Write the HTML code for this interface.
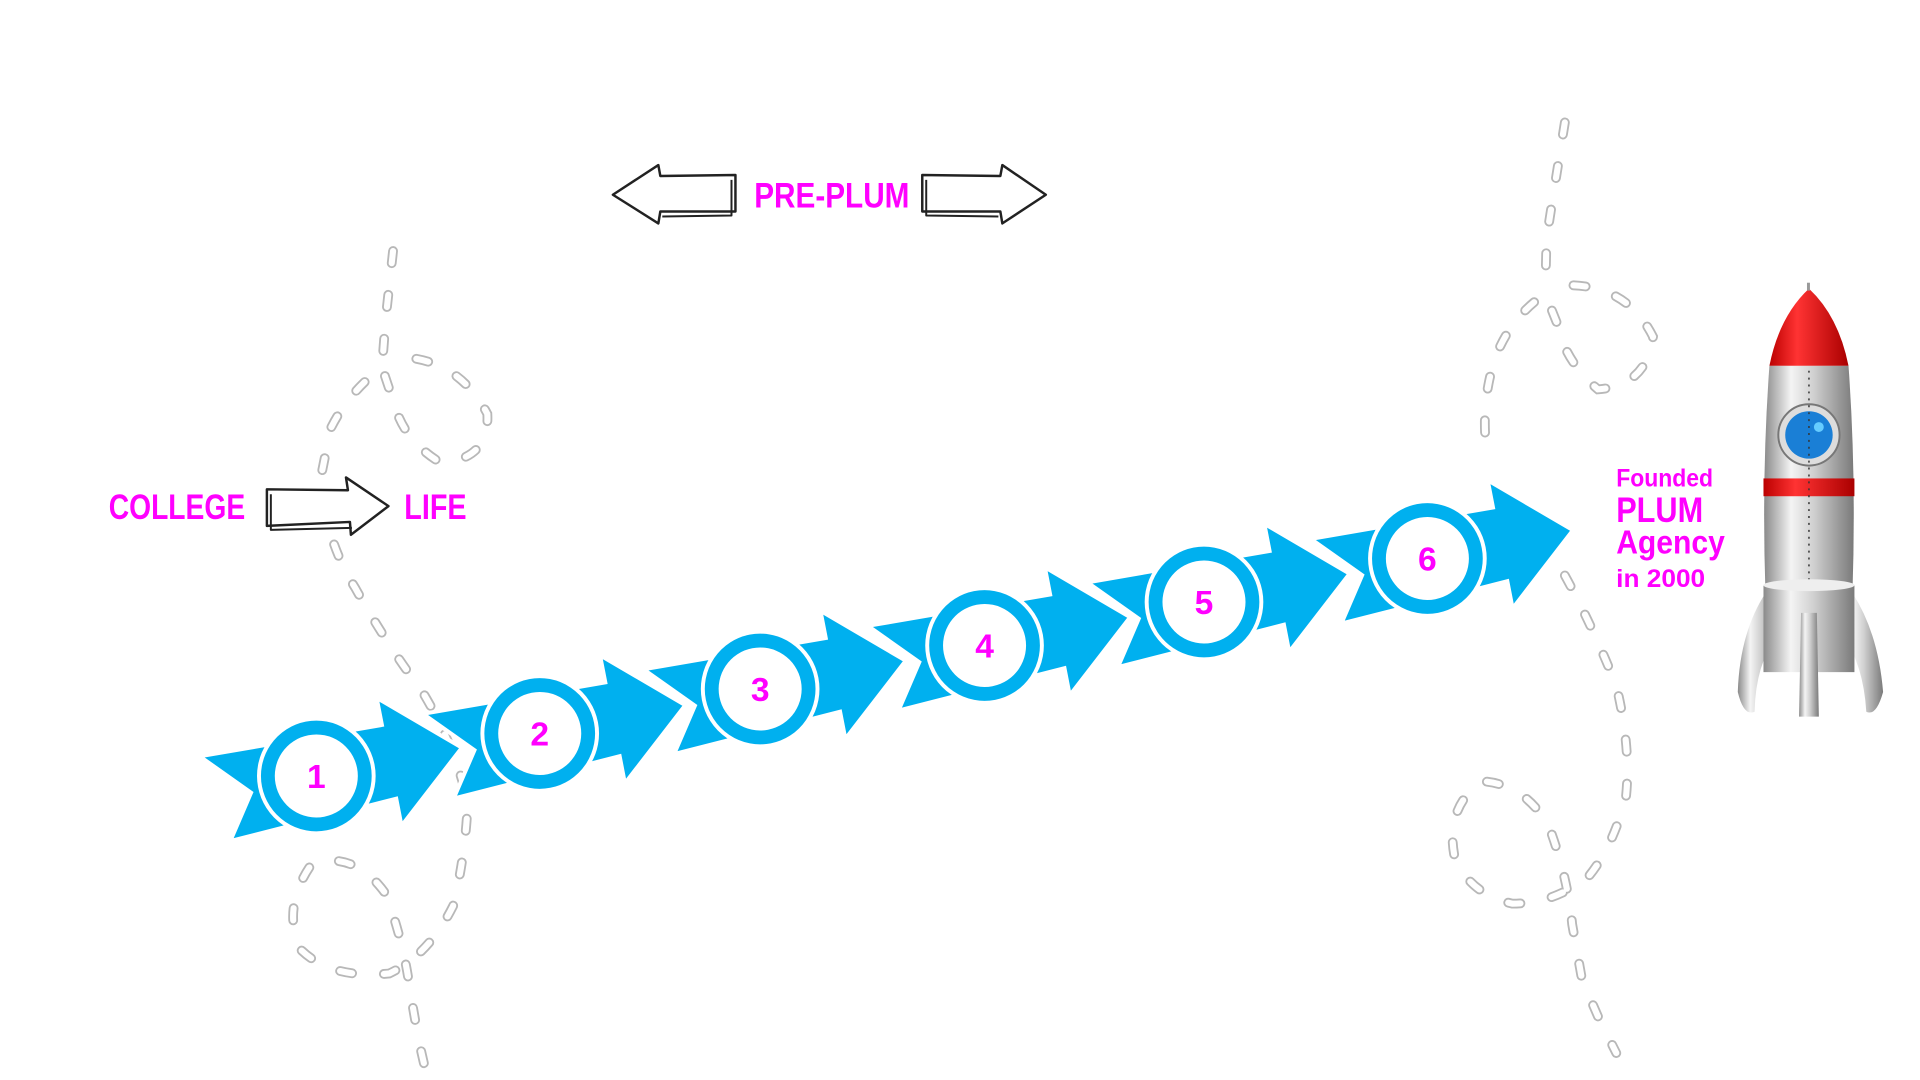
<!DOCTYPE html>
<html><head><meta charset="utf-8">
<style>
html,body{margin:0;padding:0;background:#fff;width:1920px;height:1080px;overflow:hidden}
svg{position:absolute;left:0;top:0}
.t{font-family:"Liberation Sans",sans-serif;font-weight:bold;fill:#f0f}
</style></head><body>
<svg width="1920" height="1080" viewBox="0 0 1920 1080">
<defs>
<g id="seg">
  <path d="M-112,-42 L75,-38 L75,-66 L150,0 L75,66 L75,38 L-98,48 L-68,4 Z" fill="#00b0ef" stroke="#fff" stroke-width="4" stroke-linejoin="miter"/>
  <circle r="58" fill="#00b0ef" stroke="#fff" stroke-width="4"/>
  <circle r="42" fill="#fff"/>
</g>
<g id="dash-l">
  <path d="M321,205 L315,260 L312,300 M340,293 Q378,300 398,338 Q400,375 360,378 Q330,360 322,330 L312,300 Q285,320 270,350 L262,390 Q265,440 290,480 Q315,525 345,565 Q372,610 382,655 Q380,700 370,740 Q350,780 318,795 Q270,800 245,775 Q230,740 255,705 Q290,695 315,730 Q330,770 335,810 L342,850 L350,885"/>
  <path d="M1278,100 L1270,150 L1263,195 L1262,240 M1285,233 Q1330,235 1350,275 Q1345,315 1305,318 Q1278,295 1272,265 L1262,240 Q1235,258 1222,290 Q1208,330 1215,375 M1278,470 Q1300,510 1320,560 Q1332,610 1328,650 Q1318,690 1298,715 Q1270,738 1235,738 Q1200,730 1188,700 Q1180,660 1210,638 Q1245,640 1265,675 Q1280,715 1284,755 L1292,800 L1305,830 L1320,860"/>
</g>
<linearGradient id="silver" x1="0" x2="1">
<stop offset="0" stop-color="#8a8a8a"/><stop offset="0.3" stop-color="#f4f4f4"/><stop offset="0.55" stop-color="#d0d0d0"/><stop offset="1" stop-color="#7a7a7a"/></linearGradient>
<linearGradient id="red" x1="0" x2="1">
<stop offset="0" stop-color="#b00"/><stop offset="0.35" stop-color="#f33"/><stop offset="1" stop-color="#a00"/></linearGradient>
</defs>
<g transform="scale(0.9885)">
<g transform="scale(1.2387)" fill="none" stroke-linecap="round">
  <use href="#dash-l" stroke="#b8b8b8" stroke-width="8" stroke-dasharray="10 26"/>
  <use href="#dash-l" stroke="#fff" stroke-width="5" stroke-dasharray="10 26"/>
</g>
<g transform="translate(1444,565) rotate(-11)"><use href="#seg"/><text class="t" x="0" y="12" font-size="34" text-anchor="middle" transform="rotate(11)">6</text></g>
<g transform="translate(1218,609) rotate(-11)"><use href="#seg"/><text class="t" x="0" y="12" font-size="34" text-anchor="middle" transform="rotate(11)">5</text></g>
<g transform="translate(996,653) rotate(-11)"><use href="#seg"/><text class="t" x="0" y="12" font-size="34" text-anchor="middle" transform="rotate(11)">4</text></g>
<g transform="translate(769,697) rotate(-11)"><use href="#seg"/><text class="t" x="0" y="12" font-size="34" text-anchor="middle" transform="rotate(11)">3</text></g>
<g transform="translate(546,742) rotate(-11)"><use href="#seg"/><text class="t" x="0" y="12" font-size="34" text-anchor="middle" transform="rotate(11)">2</text></g>
<g transform="translate(320,785) rotate(-11)"><use href="#seg"/><text class="t" x="0" y="12" font-size="34" text-anchor="middle" transform="rotate(11)">1</text></g>

<text class="t" x="110" y="525" font-size="36" textLength="138" lengthAdjust="spacingAndGlyphs">COLLEGE</text>
<text class="t" x="409" y="525" font-size="36" textLength="63" lengthAdjust="spacingAndGlyphs">LIFE</text>
<text class="t" x="763" y="210" font-size="36" textLength="157" lengthAdjust="spacingAndGlyphs">PRE-PLUM</text>
<text class="t" x="1635" y="492" font-size="25" textLength="98" lengthAdjust="spacingAndGlyphs">Founded</text>
<text class="t" x="1635" y="528" font-size="36" textLength="88" lengthAdjust="spacingAndGlyphs">PLUM</text>
<text class="t" x="1635" y="560" font-size="34" textLength="110" lengthAdjust="spacingAndGlyphs">Agency</text>
<text class="t" x="1635" y="594" font-size="25" textLength="90" lengthAdjust="spacingAndGlyphs">in 2000</text>

<g fill="#fff" stroke="#222" stroke-width="2.5" stroke-linejoin="round">
  <path d="M270,495 L352,496 L350,483 L393,512 L355,541 L354,528 L270,532 Z"/>
  <path d="M274,500 L274,536 L356,534" fill="none" stroke-width="2"/>
  <path d="M744,177 L668,178 L666,167 L620,197 L666,226 L668,214 L744,214 Z"/>
  <path d="M740,182 L740,218 L670,219" fill="none" stroke-width="2"/>
  <path d="M933,177 L1012,178 L1014,167 L1058,197 L1014,226 L1012,214 L933,214 Z"/>
  <path d="M937,182 L937,218 L1010,219" fill="none" stroke-width="2"/>
</g>

<path d="M1786,600 Q1760,640 1758,700 Q1764,725 1775,720 Q1776,670 1800,640 Z" fill="url(#silver)"/>
<path d="M1874,600 Q1900,640 1905,700 Q1898,725 1888,720 Q1885,670 1862,640 Z" fill="url(#silver)"/>
<path d="M1790,370 Q1782,480 1786,600 L1874,600 Q1878,480 1870,370 Z" fill="url(#silver)"/>
<path d="M1830,292 Q1800,320 1790,370 L1870,370 Q1860,320 1830,292 Z" fill="url(#red)"/>
<rect x="1828" y="286" width="3" height="8" fill="#999"/>
<rect x="1784" y="484" width="92" height="18" fill="url(#red)"/>
<circle cx="1830" cy="440" r="31" fill="#ddd" stroke="#777" stroke-width="2"/>
<circle cx="1830" cy="440" r="24" fill="#1a7fd6"/>
<circle cx="1840" cy="432" r="5" fill="#6cf"/>
<line x1="1830" y1="375" x2="1830" y2="660" stroke="#333" stroke-width="1.5" stroke-dasharray="2 5"/>
<path d="M1784,592 L1876,592 L1876,680 L1784,680 Z" fill="url(#silver)"/>
<ellipse cx="1830" cy="592" rx="46" ry="6" fill="#eee"/>
<path d="M1822,620 L1838,620 L1840,725 L1820,725 Z" fill="url(#silver)"/>
</g>
</svg>
</body></html>
